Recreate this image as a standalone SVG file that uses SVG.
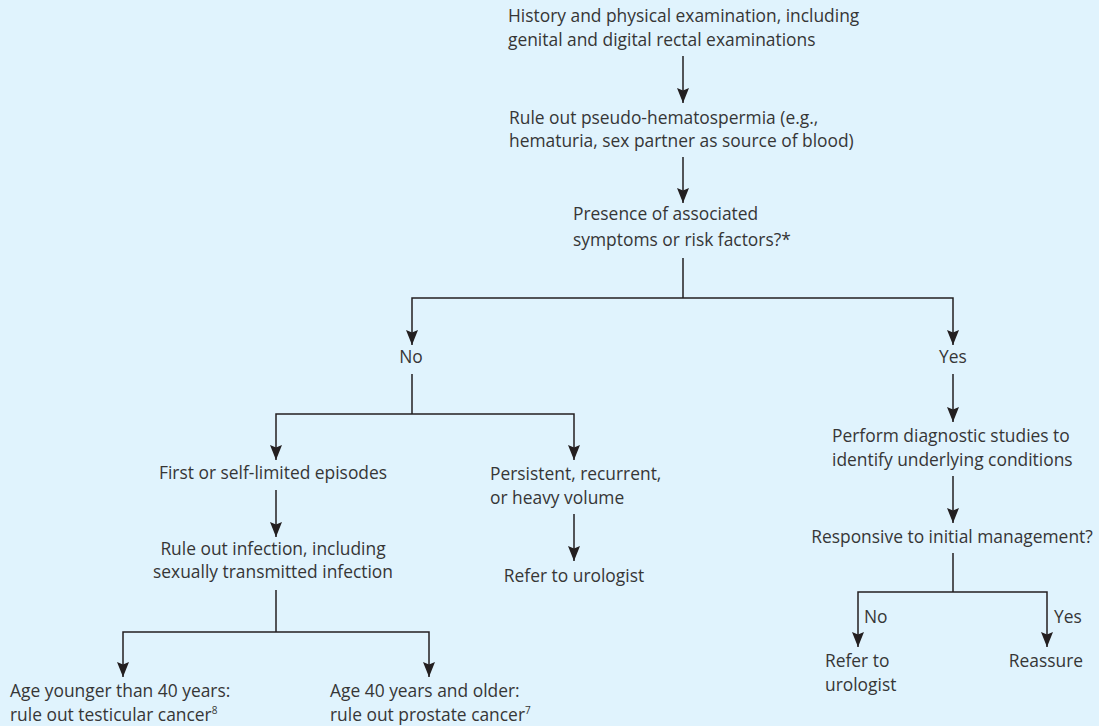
<svg xmlns="http://www.w3.org/2000/svg" width="1099" height="726" viewBox="0 0 1099 726">
<defs>
<marker id="ah" markerUnits="userSpaceOnUse" markerWidth="16" markerHeight="14" refX="15" refY="6" orient="auto" viewBox="0 0 16 12">
<path d="M0,0 L15,6 L0,12 L2.5,6 z" fill="#231f20"/>
</marker>
<style>
text{font-family:"Open Sans","Liberation Sans",Arial,sans-serif;font-size:17.4px;fill:#363636}
.c{text-anchor:middle}
.sup{font-size:10px}
#connectors path{fill:none;stroke:#231f20;stroke-width:1.5}
.a{marker-end:url(#ah)}
</style>
</defs>
<rect width="1099" height="726" fill="#e0f3fd"/>
<g id="connectors">
<path class="a" d="M683,56 V103"/>
<path class="a" d="M683,157 V203"/>
<path d="M683,258 V298"/>
<path class="a" d="M683,298 H412 V345"/>
<path class="a" d="M683,298 H953 V345"/>
<path d="M412,374 V414"/>
<path class="a" d="M412,414 H276 V460"/>
<path class="a" d="M412,414 H574 V460"/>
<path class="a" d="M276,490 V537"/>
<path class="a" d="M574,514 V561"/>
<path d="M276,590 V632"/>
<path class="a" d="M276,632 H123 V677"/>
<path class="a" d="M276,632 H429 V677"/>
<path class="a" d="M953,374 V422"/>
<path class="a" d="M953,476 V523"/>
<path d="M953,553 V592"/>
<path class="a" d="M953,592 H858 V647"/>
<path class="a" d="M953,592 H1047 V647"/>
</g>
<g id="history"><text x="508" y="22">History and physical examination, including</text><text x="508" y="46">genital and digital rectal examinations</text></g>
<g id="pseudo"><text x="509" y="124">Rule out pseudo-hematospermia (e.g.,</text><text x="509" y="147">hematuria, sex partner as source of blood)</text></g>
<g id="presence"><text x="573" y="220">Presence of associated</text><text x="573" y="246">symptoms or risk factors?*</text></g>
<g id="no1"><text class="c" x="411" y="363">No</text></g>
<g id="yes1"><text class="c" x="953" y="363">Yes</text></g>
<g id="first"><text class="c" x="273" y="479">First or self-limited episodes</text></g>
<g id="persistent"><text x="490" y="480">Persistent, recurrent,</text><text x="490" y="504">or heavy volume</text></g>
<g id="refer1"><text class="c" x="574" y="582">Refer to urologist</text></g>
<g id="infection"><text class="c" x="273" y="555">Rule out infection, including</text><text class="c" x="273" y="578">sexually transmitted infection</text></g>
<g id="younger"><text x="10" y="697">Age younger than 40 years:</text><text x="10" y="721">rule out testicular cancer<tspan class="sup" dy="-7">8</tspan></text></g>
<g id="older"><text x="330" y="697">Age 40 years and older:</text><text x="330" y="721">rule out prostate cancer<tspan class="sup" dy="-7">7</tspan></text></g>
<g id="perform"><text x="832" y="442">Perform diagnostic studies to</text><text x="832" y="466">identify underlying conditions</text></g>
<g id="responsive"><text class="c" x="952" y="543">Responsive to initial management?</text></g>
<g id="no2"><text x="864" y="623">No</text></g>
<g id="yes2"><text x="1054" y="623">Yes</text></g>
<g id="refer2"><text x="825" y="667">Refer to</text><text x="825" y="691">urologist</text></g>
<g id="reassure"><text class="c" x="1046" y="667">Reassure</text></g>
</svg>
